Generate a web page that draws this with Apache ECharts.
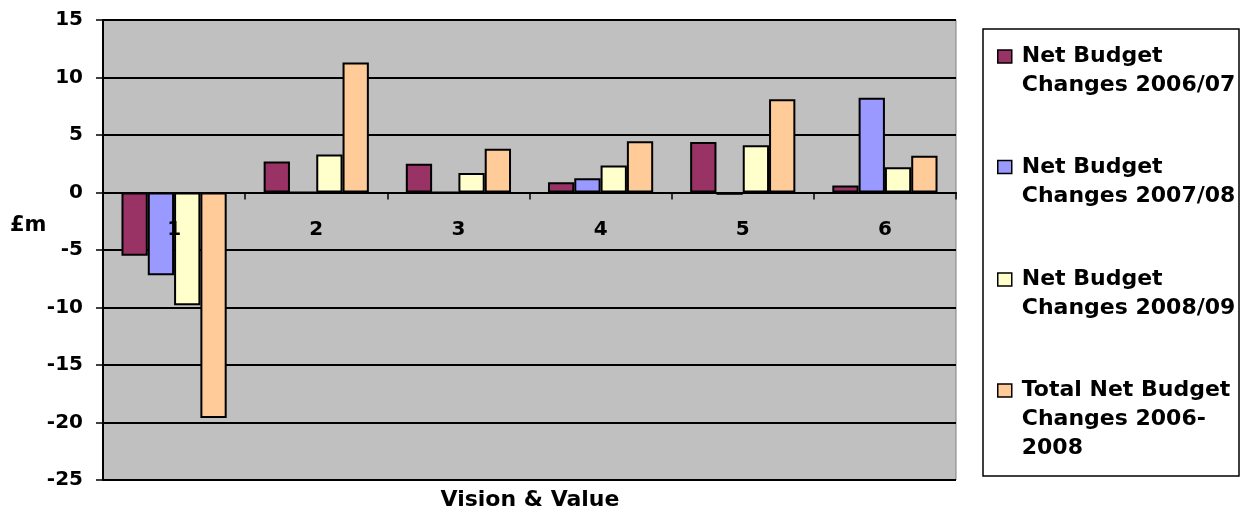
<!DOCTYPE html>
<html>
<head>
<meta charset="utf-8">
<script src="https://cdn.jsdelivr.net/npm/echarts@6/dist/echarts.min.js"></script>
<style>
  html, body { margin: 0; padding: 0; background: #fff; }
  #chart { width: 1251px; height: 512px; }
</style>
</head>
<body>
<div id="chart"></div>
<script>
// Vision & Value: net budget changes by line, £m
const categories = ['1', '2', '3', '4', '5', '6'];
const changes0607 = [-5.5, 2.7, 2.5, 0.9, 4.4, 0.6];
const changes0708 = [-7.2, 0, 0, 1.25, -0.2, 8.25];
const changes0809 = [-9.8, 3.3, 1.7, 2.35, 4.1, 2.2];
const totalChanges = [-19.6, 11.3, 3.8, 4.45, 8.1, 3.2];
const seriesNames = [
  'Net Budget\nChanges 2006/07',
  'Net Budget\nChanges 2007/08',
  'Net Budget\nChanges 2008/09',
  'Total Net Budget\nChanges 2006-\n2008'
];
const seriesColors = ['#993366', '#9999FF', '#FFFFCC', '#FFCC99'];
const yTicks = { min: -25, max: 15, step: 5 };

const FONT = 'DejaVu Sans';
const LINE = 29;
const GRID = { left: 103, right: 295, top: 20, bottom: 32 };
const plotHeight = 512 - GRID.top - GRID.bottom;
// lift the category axis from the bottom edge up to the zero line
const zeroOffset = (0 - yTicks.min) / (yTicks.max - yTicks.min) * plotHeight;
const legendCenters = [56.5, 167, 279.5, 390.5];

const seriesData = [changes0607, changes0708, changes0809, totalChanges];

// one legend block per series; blank lines above the name keep the
// marker level with the first line of text
const legends = seriesNames.map((name, i) => {
  const lines = name.split('\n').length;
  return {
    orient: 'vertical',
    left: 997,
    top: legendCenters[i] - (2 * lines - 1) * LINE / 2,
    padding: 0,
    itemWidth: 14,
    itemHeight: 13,
    icon: 'rect',
    selectedMode: false,
    data: [name],
    formatter: n => '\n'.repeat(lines - 1) + n,
    itemStyle: { borderColor: '#000', borderWidth: 1.5 },
    textStyle: {
      fontFamily: FONT,
      fontWeight: 'bold',
      fontSize: 22,
      color: '#000',
      lineHeight: LINE,
      padding: [0, 0, 0, 5]
    }
  };
});

const chart = echarts.init(document.getElementById('chart'), null, { renderer: 'canvas' });
chart.setOption({
  animation: false,
  backgroundColor: '#fff',
  grid: {
    left: GRID.left, right: GRID.right, top: GRID.top, bottom: GRID.bottom,
    outerBoundsMode: 'none',
    containLabel: false,
    show: true,
    backgroundColor: '#C0C0C0',
    borderColor: '#808080',
    borderWidth: 1
  },
  legend: legends,
  graphic: [
    {
      type: 'rect',
      z: -1,
      shape: { x: 983, y: 29, width: 256, height: 447 },
      style: { fill: '#fff', stroke: '#000', lineWidth: 1.5 }
    },
    {
      type: 'text',
      left: 10, top: 215,
      style: { text: '£m', font: 'bold 21px "' + FONT + '"', fill: '#000' }
    },
    {
      type: 'text',
      x: 530, y: 500,
      style: {
        text: 'Vision & Value',
        font: 'bold 22px "' + FONT + '"',
        fill: '#000',
        align: 'center',
        verticalAlign: 'middle'
      }
    }
  ],
  xAxis: {
    type: 'category',
    data: categories,
    position: 'bottom',
    offset: -zeroOffset,
    z: 3,
    axisLine: { onZero: false, lineStyle: { color: '#000', width: 2 } },
    axisTick: { show: true, length: 7, lineStyle: { color: '#000', width: 1.5 } },
    axisLabel: {
      margin: 27,
      fontFamily: FONT,
      fontWeight: 'bold',
      fontSize: 20,
      color: '#000'
    },
    splitLine: { show: false }
  },
  yAxis: {
    type: 'value',
    min: yTicks.min,
    max: yTicks.max,
    interval: yTicks.step,
    axisLine: { show: true, lineStyle: { color: '#000', width: 2 } },
    axisTick: { show: true, length: 7, lineStyle: { color: '#000', width: 1.5 } },
    axisLabel: {
      margin: 20,
      fontFamily: FONT,
      fontWeight: 'bold',
      fontSize: 20,
      color: '#000'
    },
    splitLine: { show: true, lineStyle: { color: '#000', width: 2 } }
  },
  series: seriesNames.map((name, i) => ({
    name: name,
    type: 'bar',
    data: seriesData[i],
    barGap: '0%',
    barCategoryGap: '26%',
    itemStyle: { color: seriesColors[i], borderColor: '#000', borderWidth: 2 }
  }))
});
</script>
</body>
</html>
